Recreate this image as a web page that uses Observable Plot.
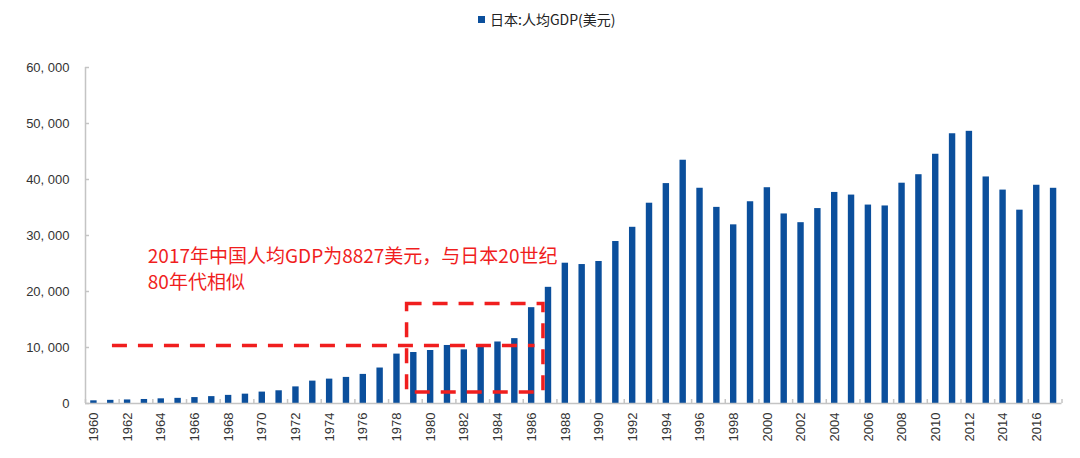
<!DOCTYPE html>
<html><head><meta charset="utf-8">
<script src="https://cdn.jsdelivr.net/npm/d3@7"></script>
<script src="https://cdn.jsdelivr.net/npm/@observablehq/plot@0.6"></script>
<style>
body{margin:0;background:#fff}
#wrap{position:relative;width:1080px;height:458px}
#legend{position:absolute;top:9px;left:478px;font:14px "Noto Sans CJK SC";color:#222;display:flex;align-items:center;white-space:nowrap}
#legend .sw{width:7px;height:7px;background:#0b4f9c;margin-right:5px}
</style>
</head><body>
<div id="wrap"><div id="legend"><span class="sw"></span>日本:人均GDP(美元)</div></div>
<script>
const seriesName = "日本:人均GDP(美元)";
const years = [1960,1961,1962,1963,1964,1965,1966,1967,1968,1969,1970,1971,1972,1973,1974,1975,1976,1977,1978,1979,
  1980,1981,1982,1983,1984,1985,1986,1987,1988,1989,1990,1991,1992,1993,1994,1995,1996,1997,1998,1999,
  2000,2001,2002,2003,2004,2005,2006,2007,2008,2009,2010,2011,2012,2013,2014,2015,2016,2017];
const gdp = [479,564,634,717,835,919,1059,1229,1451,1669,2037,2272,2967,3997,4354,4659,5197,6335,8821,9105,
  9463,10361,9578,10425,10984,11585,17112,20745,25052,24813,25359,28925,31465,35766,39269,43440,38437,35022,31903,36027,
  38532,33846,32289,34808,37689,37218,35434,35275,39339,40855,44508,48168,48603,40454,38109,34524,38972,38430];
const xTickYears = [1960,1962,1964,1966,1968,1970,1972,1974,1976,1978,1980,1982,1984,1986,1988,1990,1992,1994,1996,1998,
  2000,2002,2004,2006,2008,2010,2012,2014,2016];
const yTicks = [0,10000,20000,30000,40000,50000,60000];
const annotationText = "2017年中国人均GDP为8827美元，与日本20世纪\n80年代相似";
// annotation geometry in data units
const hLine = [{x1:1961.1, x2:1986.2, y:10350}];
const box = [{x1:1978.6, x2:1986.7, y1:1960, y2:17750}];
const note = [{x:1963.2, y:24300, text:annotationText}];

const data = years.map((y,i)=>({year:y, gdp:gdp[i]}));
const xMin = 1959.5, xMax = 2017.5;
const boundaries = d3.range(xMin, xMax + 0.01, 2);
const barHalf = 0.19;
const blue = "#0b4f9c", red = "#f01e1e", axisGray = "#c4c4c4";

const chart = Plot.plot({
  width:1080, height:458,
  marginLeft:85, marginRight:18.5, marginTop:67, marginBottom:55,
  style:{fontFamily:"'Liberation Sans', Arial, sans-serif", color:"#333", background:"transparent"},
  x:{type:"linear", domain:[xMin,xMax], axis:null},
  y:{domain:[0,60000], axis:null},
  marks:[
    Plot.rectY(data, {x1:d=>d.year-barHalf, x2:d=>d.year+barHalf, y:"gdp", fill:blue}),
    Plot.ruleY([0], {x1:xMin, x2:xMax, stroke:axisGray, strokeWidth:1.5}),
    Plot.ruleX([xMin], {y1:0, y2:60000, stroke:axisGray, strokeWidth:1.5}),
    Plot.ruleY(yTicks, {x1:xMin, x2:xMin, insetRight:-4, stroke:axisGray, strokeWidth:1.5}),
    Plot.ruleX(boundaries, {y1:0, y2:0, insetTop:-4, stroke:axisGray, strokeWidth:1.5}),
    Plot.ruleY(hLine, {x1:"x1", x2:"x2", y:"y", stroke:red, strokeWidth:3.5, strokeDasharray:"15,11"}),
    Plot.rect(box, {x1:"x1", x2:"x2", y1:"y1", y2:"y2", fill:"none", stroke:red, strokeWidth:3.5, strokeDasharray:"15,11"}),
    Plot.text(note, {x:"x", y:"y", text:"text", textAnchor:"start", lineAnchor:"middle", lineHeight:1.37,
      fontSize:19, fontFamily:"'Noto Sans CJK SC', sans-serif", fill:red}),
    Plot.axisX(xTickYears, {tickRotate:-90, tickSize:0, tickPadding:9, fontSize:13, tickFormat:d=>String(d)}),
    Plot.axisY(yTicks, {tickSize:0, tickPadding:16, fontSize:13, tickFormat:d=>d3.format(",")(d).replace(",", ", ")})
  ]
});
document.getElementById("wrap").appendChild(chart);
chart.style.position = "absolute";
chart.style.left = "0"; chart.style.top = "0";
</script>
</body></html>
